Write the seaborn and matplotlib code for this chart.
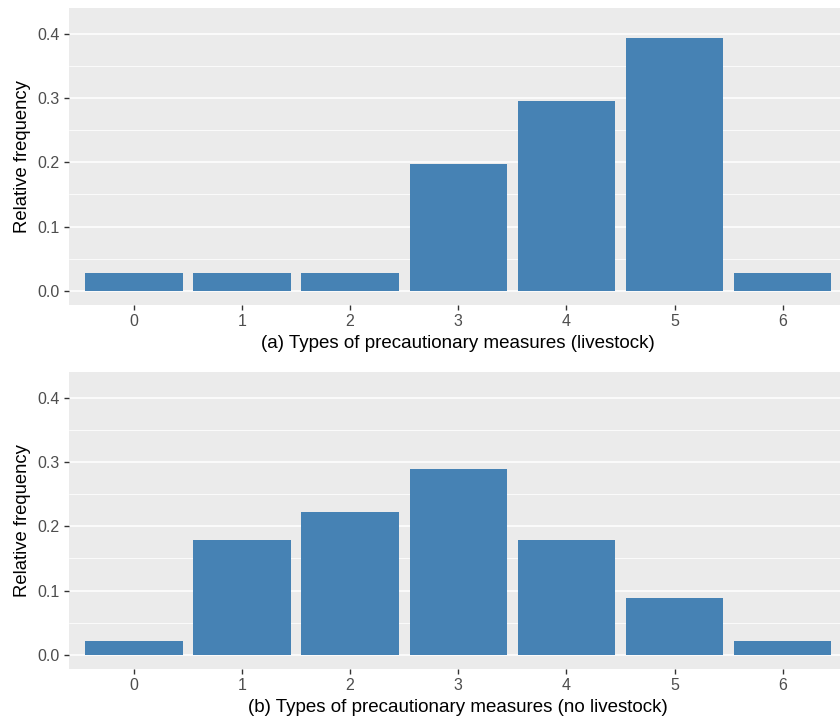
import matplotlib
matplotlib.use("Agg")
import matplotlib.pyplot as plt
import pandas as pd
import seaborn as sns
from matplotlib.ticker import MultipleLocator

measures = ["0", "1", "2", "3", "4", "5", "6"]
freq_livestock = [0.028, 0.028, 0.028, 0.197, 0.296, 0.394, 0.028]
freq_no_livestock = [0.022, 0.178, 0.222, 0.289, 0.178, 0.089, 0.022]
xlabels = [
    "(a) Types of precautionary measures (livestock)",
    "(b) Types of precautionary measures (no livestock)",
]

sns.set_theme(style="darkgrid")
plt.rcParams["font.family"] = ["Liberation Sans", "DejaVu Sans"]

fig = plt.figure(figsize=(8.4, 7.18), dpi=100)
ax_top = fig.add_axes([0.0821, 0.5752, 0.9269, 0.4136])
ax_bot = fig.add_axes([0.0821, 0.0682, 0.9269, 0.4136])

for ax, vals, lab in zip([ax_top, ax_bot], [freq_livestock, freq_no_livestock], xlabels):
    df = pd.DataFrame({"measure": measures, "freq": vals})
    sns.barplot(data=df, x="measure", y="freq", order=measures, color="#4682B4",
                saturation=1, width=0.9, linewidth=0, edgecolor="none", ax=ax)
    ax.set_facecolor("#EBEBEB")
    ax.set_xlim(-0.6, 6.6)
    ax.set_ylim(-0.022, 0.44)
    ax.yaxis.set_major_locator(MultipleLocator(0.1))
    ax.yaxis.set_minor_locator(MultipleLocator(0.05))
    ax.yaxis.set_major_formatter(lambda v, p: f"{v:.1f}")
    ax.grid(False)
    ax.grid(axis="y", which="major", color="white", linewidth=1.1)
    ax.grid(axis="y", which="minor", color="white", linewidth=0.55)
    ax.set_axisbelow(True)
    for s in ax.spines.values():
        s.set_visible(False)
    ax.tick_params(axis="both", which="major", length=3.5, width=1, color="#333333",
                   labelcolor="#4D4D4D", labelsize=11.5, pad=3, bottom=True, left=True)
    ax.tick_params(axis="y", which="minor", length=0)
    ax.set_xlabel(lab, fontsize=13.5, color="black", labelpad=4)
    ax.set_ylabel("Relative frequency", fontsize=13.3, color="black", labelpad=5)

fig.savefig("out.png", dpi=100)
